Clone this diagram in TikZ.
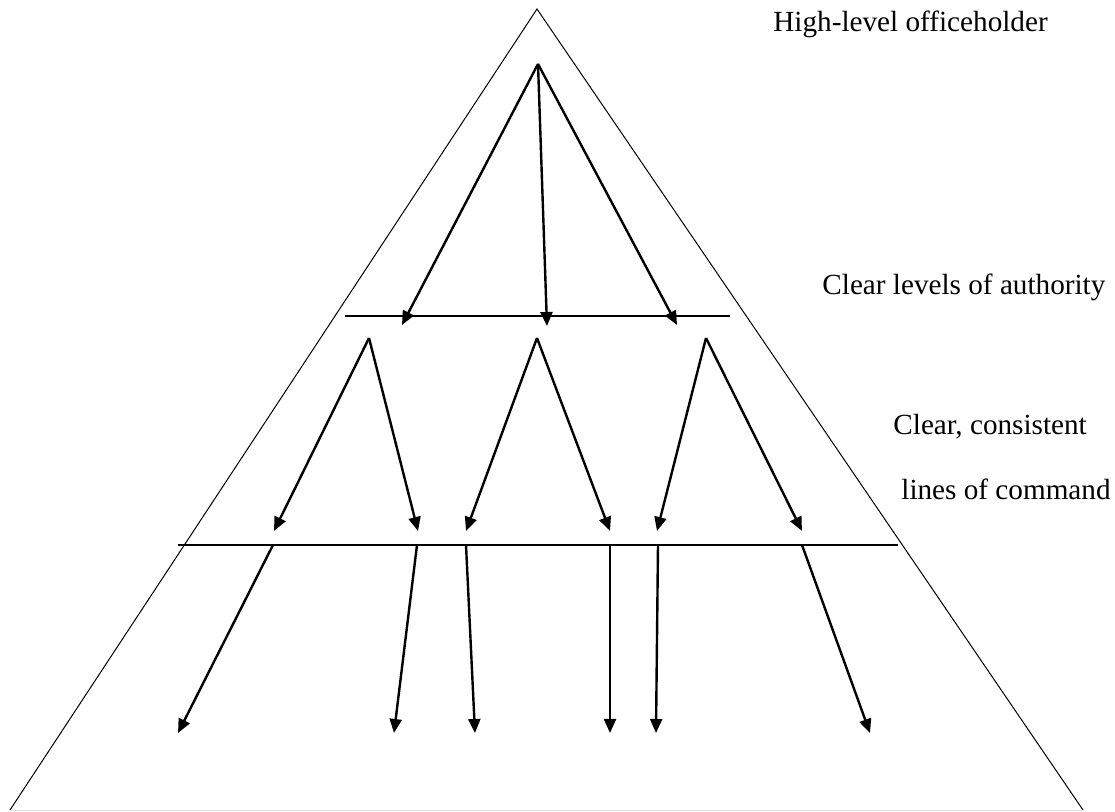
\documentclass[tikz,border=0pt]{standalone}
\usepackage{fontspec}
\setmainfont{Liberation Serif}
\usetikzlibrary{arrows.meta}

\begin{document}
\begin{tikzpicture}[
			x=0.5pt, y=-0.5pt,
			font=\fontsize{14.6}{17}\selectfont,
			cmd/.style={-{Triangle[length=7pt, width=6pt]}, line width=1.2pt},
			level/.style={line width=1pt},
			label/.style={anchor=base west, inner sep=0pt}
			]
			\useasboundingbox (0,0) rectangle (1115,812);

			% outer pyramid
			\coordinate (apex) at (537,9);
			\coordinate (baseL) at (10,810);
			\coordinate (baseR) at (1083,810);
			\draw[line width=0.5pt] (baseL) -- (apex) -- (baseR);
			\draw[line width=0.5pt, black!12] (baseL) -- (baseR);

			% levels of authority
			\coordinate (lvlAL) at (345,316);
			\coordinate (lvlAR) at (730,316);
			\coordinate (lvlBL) at (178,545);
			\coordinate (lvlBR) at (898,545);
			\draw[level] (lvlAL) -- (lvlAR);
			\draw[level] (lvlBL) -- (lvlBR);

			% top officeholder
			\coordinate (top) at (538,64);
			\coordinate (t1) at (402,325);
			\coordinate (t2) at (547,326);
			\coordinate (t3) at (677,325);

			% second level
			\coordinate (s1) at (369,338);
			\coordinate (s2) at (537,338);
			\coordinate (s3) at (706,338);
			\coordinate (m1) at (274,531);
			\coordinate (m2) at (418,531);
			\coordinate (m3) at (466,531);
			\coordinate (m4) at (610,531);
			\coordinate (m5) at (657,531);
			\coordinate (m6) at (802,531);

			% third level
			\coordinate (u1) at (273,545);
			\coordinate (u2) at (417,545);
			\coordinate (u3) at (466,545);
			\coordinate (u4) at (610,545);
			\coordinate (u5) at (658,545);
			\coordinate (u6) at (802,545);
			\coordinate (b1) at (178,733);
			\coordinate (b2) at (394,733);
			\coordinate (b3) at (475,733);
			\coordinate (b4) at (610,733);
			\coordinate (b5) at (656,733);
			\coordinate (b6) at (870,733);

			\foreach \a/\b in {top/t1, top/t2, top/t3, s1/m1, s1/m2, s2/m3, s2/m4, s3/m5, s3/m6,
				u1/b1, u2/b2, u3/b3, u4/b4, u5/b5, u6/b6} {
				\draw[cmd] (\a) -- (\b);
			}

			\node[label] (office) at (773,32) {High-level officeholder};
			\node[label] (authority) at (822,295) {Clear levels of authority};
			\node[label] (consistent) at (893,435) {Clear, consistent};
			\node[label] (command) at (901,500) {lines of command};

		\end{tikzpicture}
\end{document}
